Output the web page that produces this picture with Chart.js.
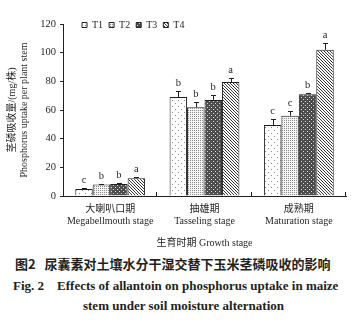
<!DOCTYPE html>
<html>
<head>
<meta charset="utf-8">
<script src="https://cdn.jsdelivr.net/npm/chart.js@4"></script>
<style>
  body { margin: 0; background: #fff; }
  #wrap { position: relative; width: 361px; height: 323px; overflow: hidden; }
  #box { position: absolute; left: 0; top: 0; width: 361px; height: 252px; }
  .cap { position: absolute; white-space: pre; color: #231f20; font-weight: bold; line-height: 1; }
</style>
</head>
<body>
<div id="wrap">
  <div id="box"><canvas id="myChart" width="361" height="252"></canvas></div>
  <div class="cap" style="left:15px; top:257px; font-size:13px; font-family:'Noto Sans CJK SC', sans-serif;">图2   尿囊素对土壤水分干湿交替下玉米茎磷吸收的影响</div>
  <div class="cap" style="left:13px; top:279px; font-size:13px; font-family:'Liberation Serif', serif;">Fig. 2    Effects of allantoin on phosphorus uptake in maize</div>
  <div class="cap" style="left:0; width:361px; text-align:center; top:299px; font-size:13px; font-family:'Liberation Serif', serif; padding-left:3px;">stem under soil moisture alternation</div>
</div>
<script>
const stages = [['大喇叭口期', 'Megabellmouth stage'], ['抽雄期', 'Tasseling stage'], ['成熟期', 'Maturation stage']];
const treatments = ['T1', 'T2', 'T3', 'T4'];

const t1 = [4.9, 69, 49.5];
const t2 = [8.1, 62, 56];
const t3 = [8.3, 67, 71];
const t4 = [12.3, 79.6, 102];

const t1Err = [0.5, 4, 4.5];
const t2Err = [0.5, 3.6, 3.3];
const t3Err = [0.6, 3.5, 0.6];
const t4Err = [0.7, 3, 4.5];

const t1Sig = ['c', 'b', 'c'];
const t2Sig = ['b', 'b', 'c'];
const t3Sig = ['b', 'b', 'b'];
const t4Sig = ['a', 'a', 'a'];

const yTicks = [0, 20, 40, 60, 80, 100, 120];

const serif = "'Liberation Serif', 'Noto Sans CJK SC', serif";
const ink = '#231f20';

// little tiles for the bar fills
function makePattern(size, bg, fg, pixels) {
    const c = document.createElement('canvas');
    c.width = size; c.height = size;
    const g = c.getContext('2d');
    g.fillStyle = bg;
    g.fillRect(0, 0, size, size);
    g.fillStyle = fg;
    pixels.forEach(p => g.fillRect(p[0], p[1], 1, 1));
    return document.getElementById('myChart').getContext('2d').createPattern(c, 'repeat');
}

const fills = [
    makePattern(6, '#ffffff', '#8a8a8a', [[1, 1], [4, 4]]),
    makePattern(2, '#f4f4f4', '#8c8c8c', [[0, 0]]),
    makePattern(4, '#4d4d4d', '#d8d8d8', [[1, 1], [3, 3]]),
    makePattern(3, '#ffffff', '#3a3a3a', [[0, 0], [1, 1], [2, 2]])
];

const values = [t1, t2, t3, t4];
const errors = [t1Err, t2Err, t3Err, t4Err];
const letters = [t1Sig, t2Sig, t3Sig, t4Sig];

const errorBars = {
    id: 'errorBars',
    afterDatasetsDraw(chart) {
        const ctx = chart.ctx;
        const y = chart.scales.y;
        ctx.save();
        ctx.strokeStyle = ink;
        ctx.lineWidth = 1;
        ctx.fillStyle = ink;
        ctx.font = '10.5px ' + serif;
        ctx.textAlign = 'center';
        ctx.textBaseline = 'bottom';
        values.forEach((vals, i) => {
            const meta = chart.getDatasetMeta(i);
            meta.data.forEach((bar, j) => {
                const top = Math.round(y.getPixelForValue(vals[j] + errors[i][j])) + 0.5;
                const x = Math.round(bar.x) + 0.5;
                ctx.beginPath();
                ctx.moveTo(x, bar.y);
                ctx.lineTo(x, top);
                ctx.moveTo(x - 2.5, top);
                ctx.lineTo(x + 2.5, top);
                ctx.stroke();
                ctx.fillText(letters[i][j], bar.x, top - 3);
            });
        });
        ctx.restore();
    }
};

// short inward marks between the stages on the x axis
const stageTicks = {
    id: 'stageTicks',
    afterDraw(chart) {
        const ctx = chart.ctx;
        const x = chart.scales.x;
        const bottom = chart.chartArea.bottom;
        const half = (x.getPixelForValue(1) - x.getPixelForValue(0)) / 2;
        ctx.save();
        ctx.strokeStyle = ink;
        ctx.lineWidth = 1;
        ctx.beginPath();
        for (let i = 0; i < stages.length; i++) {
            const px = Math.round(x.getPixelForValue(i) + half) - 0.5;
            ctx.moveTo(px, bottom);
            ctx.lineTo(px, bottom - 4);
        }
        ctx.stroke();
        ctx.restore();
    }
};

// move the top legend down into the plot, next to the 120 line
const legendShift = {
    id: 'legendShift',
    afterLayout(chart) {
        const lg = chart.legend;
        const dx = chart.chartArea.left + 13 - lg.left;
        const dy = chart.chartArea.top - 10 - lg.top;
        lg.left += dx; lg.right += dx;
        lg.top += dy; lg.bottom += dy;
    }
};

new Chart(document.getElementById('myChart'), {
    type: 'bar',
    data: {
        labels: stages,
        datasets: treatments.map((t, i) => ({
            label: t,
            data: values[i],
            backgroundColor: fills[i],
            borderColor: ink,
            borderWidth: 1,
            barPercentage: 1,
            categoryPercentage: 0.74
        }))
    },
    options: {
        responsive: false,
        animation: false,
        layout: { padding: { top: -2, right: 15, left: 0, bottom: 0 } },
        plugins: {
            legend: {
                position: 'top',
                align: 'start',
                labels: {
                    boxWidth: 5,
                    boxHeight: 5,
                    padding: 6,
                    color: ink,
                    font: { family: serif, size: 10 }
                }
            },
            tooltip: { enabled: false }
        },
        scales: {
            x: {
                afterFit(s) { s.height = 56; },
                grid: { display: true, drawOnChartArea: false, drawTicks: false },
                border: { color: ink, width: 1 },
                ticks: { color: ink, padding: 7, font: { family: serif, size: 10 }, maxRotation: 0 },
                title: {
                    display: true,
                    text: '生育时期 Growth stage',
                    color: ink,
                    font: { family: serif, size: 10 },
                    padding: { top: 0, bottom: 3 }
                }
            },
            y: {
                min: 0,
                max: 120,
                afterFit(s) { s.width = 63; },
                afterBuildTicks(s) { s.ticks = yTicks.map(v => ({ value: v })); },
                grid: { display: true, drawOnChartArea: false, drawTicks: true, tickLength: 3, color: ink },
                border: { color: ink, width: 1 },
                ticks: { color: ink, padding: 4, font: { family: serif, size: 10.5 } },
                title: {
                    display: true,
                    text: ['茎磷吸收量/(mg/株)', 'Phosphorus uptake per plant stem'],
                    color: ink,
                    font: { family: serif, size: 10 },
                    padding: { top: 6, bottom: 0 }
                }
            }
        }
    },
    plugins: [errorBars, stageTicks, legendShift]
});
</script>
</body>
</html>
